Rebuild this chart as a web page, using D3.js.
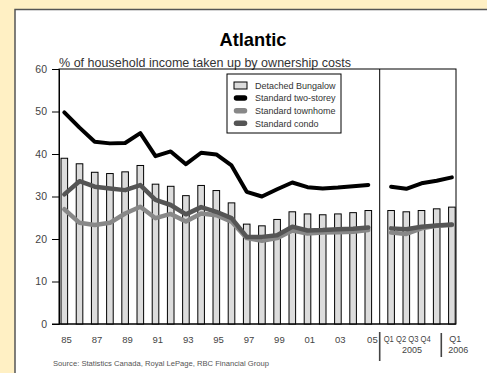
<!DOCTYPE html>
<html>
<head>
<meta charset="utf-8">
<script src="https://cdn.jsdelivr.net/npm/d3@7"></script>
<style>
  html, body { margin: 0; padding: 0; background: #fff0c4; }
  svg { display: block; }
  text { font-family: "Liberation Sans", Arial, sans-serif; }
</style>
</head>
<body>
<svg id="chart" width="487" height="373"></svg>
<script>
// Annual data 1985-2005, then quarterly Q1 2005 - Q1 2006
const years = ["85","86","87","88","89","90","91","92","93","94","95","96","97","98","99","00","01","02","03","04","05"];
const quarters = ["Q1 2005","Q2 2005","Q3 2005","Q4 2005","Q1 2006"];
const yearLabels = ["85","87","89","91","93","95","97","99","01","03","05"];
const yTicks = [0, 10, 20, 30, 40, 50, 60];

const bungalowAnnual   = [39.0,37.7,35.7,35.4,35.8,37.3,32.9,32.4,30.2,32.6,31.4,28.5,23.5,23.1,24.6,26.4,25.9,25.7,25.9,26.2,26.7];
const bungalowQuarter  = [26.7,26.4,26.7,27.1,27.5];
const twoStoreyAnnual  = [49.8,46.2,42.9,42.5,42.6,44.9,39.5,40.6,37.6,40.3,39.9,37.3,31.1,30.0,31.7,33.3,32.2,31.9,32.1,32.4,32.7];
const twoStoreyQuarter = [32.3,31.8,33.1,33.7,34.5];
const townhomeAnnual   = [27.0,23.8,23.3,23.8,26.0,27.6,24.9,25.9,24.1,26.0,25.6,24.1,20.2,19.6,20.2,22.0,21.3,21.5,21.6,21.7,22.1];
const townhomeQuarter  = [21.5,21.2,22.5,23.1,23.3];
const condoAnnual      = [30.5,33.6,32.3,31.9,31.5,32.7,29.2,28.0,25.8,27.5,26.4,24.9,20.5,20.5,20.9,22.9,22.0,22.1,22.3,22.4,22.7];
const condoQuarter     = [22.5,22.3,22.9,23.2,23.4];

const svg = d3.select("#chart");

// white panel with dark border on top/left
svg.append("rect").attr("x", 15).attr("y", 9.5).attr("width", 480).attr("height", 370)
  .attr("fill", "#fff").attr("stroke", "#555").attr("stroke-width", 1.5);

const plot = { left: 59, right: 456, top: 69, bottom: 324 };

// position index: years 0..20, quarters 21.5..25.5
const yearPos = years.map((d, i) => i);
const quarterPos = quarters.map((d, i) => 21.5 + i);
const sepPos = 20.75;

const x = d3.scaleLinear().domain([-0.35, 25.77]).range([plot.left, plot.right]);
const y = d3.scaleLinear().domain([0, 60]).range([plot.bottom, plot.top]);

// title + subtitle
svg.append("text").attr("x", 253).attr("y", 46).attr("text-anchor", "middle")
  .attr("font-size", 19).attr("font-weight", "bold").attr("fill", "#000")
  .attr("textLength", 67).attr("lengthAdjust", "spacingAndGlyphs")
  .text("Atlantic");
svg.append("text").attr("x", 59).attr("y", 66.5)
  .attr("font-size", 13.5).attr("fill", "#333")
  .attr("textLength", 292).attr("lengthAdjust", "spacingAndGlyphs")
  .text("% of household income taken up by ownership costs");

// frame
svg.append("rect").attr("x", plot.left).attr("y", plot.top)
  .attr("width", plot.right - plot.left).attr("height", plot.bottom - plot.top)
  .attr("fill", "none").attr("stroke", "#000").attr("stroke-width", 1);

// y axis
const yAxis = d3.axisLeft(y).tickValues(yTicks).tickSize(7).tickPadding(5);
const yg = svg.append("g").attr("transform", `translate(${plot.left},0)`).call(yAxis);
yg.select(".domain").attr("stroke", "#000");
yg.selectAll(".tick line").attr("stroke", "#000");
yg.selectAll(".tick text").attr("font-size", 10.5).attr("fill", "#444")
  .attr("font-family", "Liberation Sans, Arial, sans-serif");

// separator inside plot
svg.append("line").attr("x1", x(sepPos)).attr("x2", x(sepPos))
  .attr("y1", plot.top).attr("y2", plot.bottom).attr("stroke", "#000").attr("stroke-width", 1);

// bars
const barW = 6.6;
const bars = yearPos.map((p, i) => ({ p, v: bungalowAnnual[i] }))
  .concat(quarterPos.map((p, i) => ({ p, v: bungalowQuarter[i] })));
svg.append("g").selectAll("rect").data(bars).join("rect")
  .attr("x", d => x(d.p) - barW / 2).attr("width", barW)
  .attr("y", d => y(d.v)).attr("height", d => y(0) - y(d.v))
  .attr("fill", "#dcdcdc").attr("stroke", "#000").attr("stroke-width", 1);

// lines
const line = d3.line().x(d => x(d.p)).y(d => y(d.v));
function series(annual, quarterly, color, width) {
  [yearPos.map((p, i) => ({ p, v: annual[i] })), quarterPos.map((p, i) => ({ p, v: quarterly[i] }))]
    .forEach(seg => {
      svg.append("path").attr("d", line(seg)).attr("fill", "none")
        .attr("stroke", color).attr("stroke-width", width)
        .attr("stroke-linejoin", "round").attr("stroke-linecap", "round");
    });
}
series(townhomeAnnual, townhomeQuarter, "#888", 4.5);
series(condoAnnual, condoQuarter, "#555", 4.5);
series(twoStoreyAnnual, twoStoreyQuarter, "#000", 4);

// bottom axis line (extends to tick)
svg.append("line").attr("x1", plot.left - 7).attr("x2", plot.right)
  .attr("y1", plot.bottom).attr("y2", plot.bottom).attr("stroke", "#000");

// x labels
const xl = svg.append("g").attr("font-size", 9.5).attr("fill", "#444");
yearLabels.forEach(lbl => {
  const i = years.indexOf(lbl);
  const last = lbl === "05";
  xl.append("text")
    .attr("x", last ? x(sepPos) - 2 : x(i) + 2.3)
    .attr("y", 342.5)
    .attr("text-anchor", last ? "end" : "middle")
    .text(lbl);
});
// quarter labels
const sep2 = (x(quarterPos[3]) + x(quarterPos[4])) / 2 - 3;
svg.append("line").attr("x1", x(sepPos)).attr("x2", x(sepPos)).attr("y1", 332).attr("y2", 361)
  .attr("stroke", "#444").attr("stroke-width", 1.6);
svg.append("line").attr("x1", sep2).attr("x2", sep2).attr("y1", 333).attr("y2", 357)
  .attr("stroke", "#444").attr("stroke-width", 1.6);
const qg = svg.append("g").attr("font-size", 9).attr("fill", "#444");
qg.append("text").attr("x", x(sepPos) + 4).attr("y", 342)
  .attr("textLength", 47).attr("lengthAdjust", "spacingAndGlyphs").text("Q1 Q2 Q3 Q4");
qg.append("text").attr("x", 412).attr("y", 352.5).attr("text-anchor", "middle").text("2005");
qg.append("text").attr("x", sep2 + 8).attr("y", 342).text("Q1");
qg.append("text").attr("x", sep2 + 7).attr("y", 352.5).text("2006");

// source
svg.append("text").attr("x", 53).attr("y", 366).attr("font-size", 8).attr("fill", "#555")
  .attr("textLength", 216).attr("lengthAdjust", "spacingAndGlyphs")
  .text("Source: Statistics Canada, Royal LePage, RBC Financial Group");

// legend
const lg = svg.append("g");
lg.append("rect").attr("x", 227).attr("y", 74).attr("width", 114).attr("height", 59)
  .attr("fill", "#fff").attr("stroke", "#000").attr("stroke-width", 1);
const legendItems = [
  { name: "Detached Bungalow", type: "bar" },
  { name: "Standard two-storey", color: "#000" },
  { name: "Standard townhome", color: "#888" },
  { name: "Standard condo", color: "#555" }
];
legendItems.forEach((it, i) => {
  const cy = 85.5 + i * 12.6;
  if (it.type === "bar") {
    lg.append("rect").attr("x", 234).attr("y", cy - 3.5).attr("width", 13).attr("height", 7)
      .attr("fill", "#dcdcdc").attr("stroke", "#000");
  } else {
    lg.append("line").attr("x1", 236.5).attr("x2", 244.5).attr("y1", cy).attr("y2", cy)
      .attr("stroke", it.color).attr("stroke-width", 5.5).attr("stroke-linecap", "round");
  }
  lg.append("text").attr("x", 255).attr("y", cy + 3.3).attr("font-size", 9).attr("fill", "#333")
    .text(it.name);
});
</script>
</body>
</html>
